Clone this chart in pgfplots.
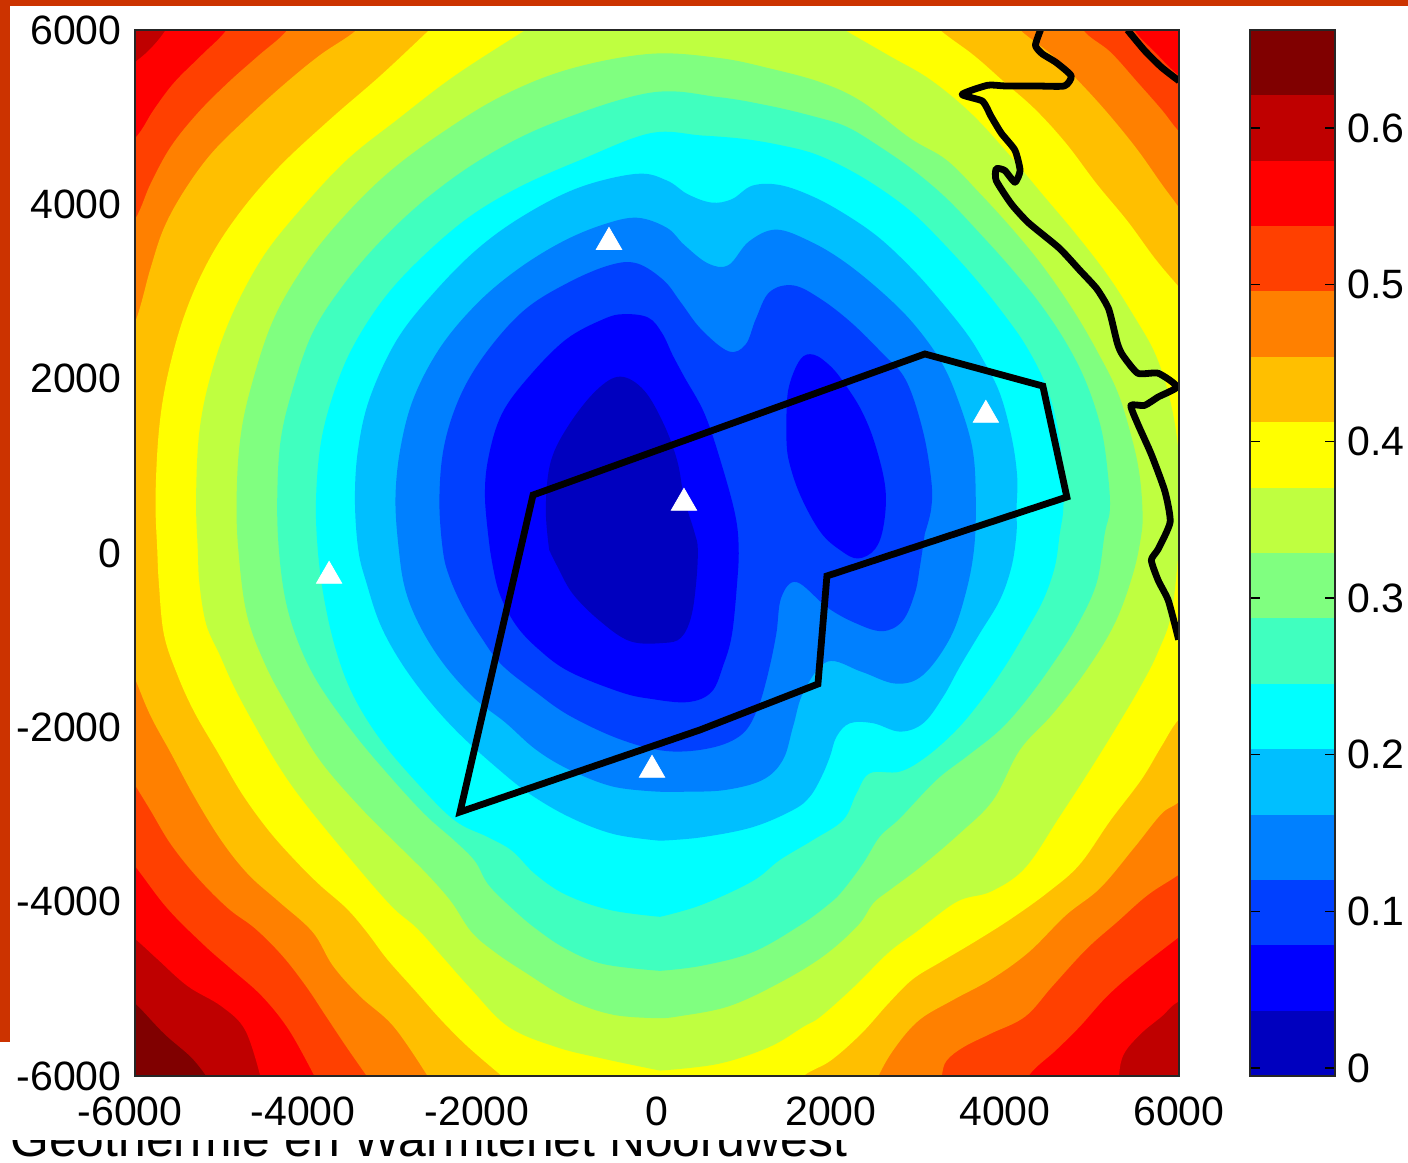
\documentclass[border=0pt]{standalone}
\usepackage{fontspec}
\setmainfont{Liberation Sans}
\usepackage{pgfplots}
\pgfplotsset{compat=1.18}
\definecolor{c16}{rgb}{.5,0,0}
\definecolor{c15}{rgb}{.75,0,0}
\definecolor{c14}{rgb}{1,0,0}
\definecolor{c13}{rgb}{1,.25,0}
\definecolor{c12}{rgb}{1,.5,0}
\definecolor{c11}{rgb}{1,.75,0}
\definecolor{c10}{rgb}{1,1,0}
\definecolor{c9}{rgb}{.75,1,.25}
\definecolor{c8}{rgb}{.5,1,.5}
\definecolor{c7}{rgb}{.25,1,.75}
\definecolor{c6}{rgb}{0,1,1}
\definecolor{c5}{rgb}{0,.75,1}
\definecolor{c4}{rgb}{0,.5,1}
\definecolor{c3}{rgb}{0,.25,1}
\definecolor{c2}{rgb}{0,0,1}
\definecolor{c1}{rgb}{0,0,.75}
\definecolor{frame}{rgb}{.8,.2,0}
\pgfplotsset{band/.style={draw=none,fill=#1,mark=none,smooth,tension=0.6,forget plot},
 bar/.style={draw=none,fill=#1,mark=none,sharp plot,forget plot}}
\begin{document}
\begin{tikzpicture}
\path[use as bounding box] (0,0) rectangle (704pt,581pt);
\fill[frame] (0,578pt) rectangle (704pt,581pt);
\fill[frame] (0,60pt) rectangle (5pt,581pt);
\begin{scope}
\clip (0,0) rectangle (704pt,11pt);
\node[anchor=base west,inner sep=0pt,font=\fontsize{24.9}{28}\selectfont] at (5pt,3pt) {Geothermie en Warmtenet Noordwest};
\end{scope}
\begin{axis}[at={(67.5pt,43pt)},anchor=south west,width=522pt,height=523pt,scale only axis,
 xmin=-6000,xmax=6000,ymin=-6000,ymax=6000,axis on top,major tick length=0pt,
 xtick={-6000,-4000,-2000,0,2000,4000,6000},ytick={-6000,-4000,-2000,0,2000,4000,6000},
 xticklabels={-6000\kern5pt,-4000\kern6pt,-2000\kern6pt,0,2000,4000,6000},yticklabels={-6000,-4000,-2000,0,2000,4000,6000},
 tick label style={font=\fontsize{20.5}{24}\selectfont,inner sep=0pt},
 xticklabel style={yshift=-10pt},yticklabel style={xshift=-6.5pt},
 axis line style={line width=0.7pt,black!85}]
\addplot[bar=c16] coordinates {(-6500,-6500)(6500,-6500)(6500,6500)(-6500,6500)} --cycle;
% C1
\addplot[band=c15] coordinates {(-5181,-6000)(-5356,-5783)(-5667,-5512)(-6000,-5163)(-6400,-4800)(-6400,6400)(6400,6400)(6400,-6400)(-5000,-6400)(-5181,-6000)};
% C2
\addplot[band=c14] coordinates {(-4560,-6000)(-4734,-5473)(-5006,-5201)(-5395,-4969)(-5744,-4658)(-6000,-4426)(-6400,-4100)(-6400,5300)(-6000,5629)(-5822,5785)(-5647,6000)(-5400,6400)(6400,6400)(6400,-5000)(6000,-5143)(5800,-5318)(5565,-5512)(5369,-5744)(5310,-6000)(5300,-6400)(-4500,-6400)(-4560,-6000)};
% C3
\addplot[band=c13] coordinates {(-3938,-6000)(-4230,-5473)(-4540,-5085)(-4890,-4775)(-5201,-4503)(-5628,-4077)(-6000,-3592)(-6400,-3100)(-6400,4400)(-6000,4757)(-5783,5087)(-5550,5397)(-5239,5707)(-4948,6000)(-4700,6400)(5300,6400)(5486,6000)(5722,5746)(6000,5474)(6400,5200)(6400,-4100)(6000,-4406)(5526,-4775)(5173,-5085)(4859,-5434)(4585,-5705)(4271,-6000)(4100,-6400)(-3800,-6400)(-3938,-6000)};
% C4
\addplot[band=c12] coordinates {(-3336,-6000)(-3569,-5667)(-3802,-5318)(-4035,-4969)(-4307,-4620)(-4618,-4309)(-4929,-4077)(-5278,-3728)(-5589,-3340)(-5822,-2952)(-6000,-2661)(-6400,-2000)(-6400,3200)(-6000,3826)(-5822,4233)(-5589,4660)(-5278,5048)(-4929,5397)(-4579,5707)(-4249,6000)(-4000,6400)(4700,6400)(4898,6000)(5212,5746)(5526,5397)(5800,5086)(6000,4834)(6400,4400)(6400,-3400)(6000,-3689)(5643,-3922)(5290,-4232)(4938,-4542)(4546,-4969)(4232,-5318)(3840,-5512)(3526,-5667)(3330,-5822)(3272,-6000)(3200,-6400)(-3200,-6400)(-3336,-6000)};
% C5
\addplot[band=c11] coordinates {(-2637,-6000)(-3026,-5434)(-3414,-5085)(-3725,-4736)(-3958,-4348)(-4346,-4000)(-4696,-3689)(-5006,-3301)(-5317,-2797)(-5589,-2293)(-5822,-1866)(-6000,-1440)(-6300,-700)(-6300,2000)(-6000,2643)(-5822,3264)(-5667,3729)(-5434,4156)(-5123,4582)(-4734,4970)(-4307,5358)(-3880,5707)(-3453,6000)(-3200,6300)(3900,6300)(4173,6000)(4546,5707)(4898,5358)(5212,5009)(5526,4621)(5800,4233)(6000,3962)(6400,3400)(6400,-2500)(6000,-2855)(5800,-2991)(5486,-3379)(5094,-3844)(4702,-4154)(4271,-4581)(3840,-4891)(3409,-5124)(3017,-5356)(2742,-5667)(2546,-6000)(2400,-6400)(-2500,-6400)(-2637,-6000)};
% C6
\addplot[band=c10] coordinates {(-1783,-6000)(-2171,-5667)(-2482,-5356)(-2792,-5007)(-3103,-4658)(-3336,-4348)(-3569,-4077)(-3880,-3805)(-4152,-3534)(-4463,-3185)(-4773,-2758)(-5045,-2293)(-5317,-1827)(-5511,-1401)(-5667,-936)(-5725,-354)(-5744,34)(-5764,627)(-5725,1402)(-5628,2023)(-5434,2721)(-5162,3341)(-4812,3884)(-4346,4427)(-3763,4970)(-3181,5474)(-2618,6000)(-2300,6300)(2950,6300)(3252,6000)(3644,5707)(3997,5397)(4350,5086)(4702,4699)(5055,4233)(5408,3807)(5722,3380)(6000,3051)(6400,2600)(6400,-1500)(6000,-1905)(5800,-2215)(5565,-2603)(5212,-3068)(4859,-3572)(4506,-3883)(4075,-4193)(3644,-4465)(3252,-4697)(2938,-4891)(2664,-5163)(2350,-5512)(1998,-5822)(1684,-6000)(1400,-6300)(-1500,-6300)(-1783,-6000)};
% C7
\addplot[band=c9] coordinates {(35,-5938)(-617,-5802)(-1161,-5667)(-1709,-5434)(-2132,-5007)(-2443,-4658)(-2754,-4309)(-3064,-4038)(-3569,-3456)(-4074,-2836)(-4346,-2448)(-4599,-2021)(-4851,-1556)(-5026,-1168)(-5181,-819)(-5259,-354)(-5278,34)(-5298,627)(-5259,1402)(-5123,2062)(-4890,2721)(-4540,3380)(-4113,3923)(-3569,4505)(-2987,4970)(-2326,5474)(-1511,6000)(-1200,6200)(1800,6200)(2154,6000)(2664,5707)(3134,5435)(3605,5048)(4036,4582)(4428,4117)(4820,3652)(5180,3186)(5480,2721)(5722,2294)(5878,1829)(5976,1325)(6010,820)(6010,240)(5918,-664)(5761,-1129)(5565,-1517)(5290,-1983)(4977,-2487)(4624,-3030)(4232,-3611)(3840,-3883)(3448,-4000)(2978,-4348)(2664,-4581)(2272,-4969)(1880,-5318)(1684,-5434)(1292,-5667)(704,-5861)(35,-5938)};
% C8
\addplot[band=c8] coordinates {(35,-5337)(-501,-5298)(-1006,-5124)(-1511,-4814)(-1860,-4581)(-2132,-4348)(-2365,-4000)(-2637,-3689)(-2948,-3379)(-3414,-2913)(-3880,-2370)(-4230,-1789)(-4501,-1285)(-4715,-703)(-4812,34)(-4832,627)(-4793,1286)(-4676,1868)(-4424,2643)(-4074,3264)(-3647,3807)(-3103,4350)(-2482,4815)(-1783,5242)(-1006,5552)(-80,5726)(704,5680)(1292,5560)(1880,5400)(2350,5180)(2907,4760)(3328,4508)(3711,4125)(4094,3705)(4439,3284)(4783,2787)(5052,2328)(5300,1831)(5473,1258)(5549,876)(5580,493)(5569,226)(5473,-233)(5262,-807)(4937,-1342)(4554,-1839)(4171,-2259)(3864,-2833)(3481,-3215)(3014,-3613)(2677,-3865)(2485,-4018)(2311,-4271)(1919,-4620)(1410,-4930)(822,-5201)(234,-5318)(35,-5337)};
% C9
\addplot[band=c7] coordinates {(35,-4794)(-617,-4716)(-1045,-4542)(-1394,-4309)(-1666,-4077)(-1938,-3805)(-2093,-3534)(-2326,-3301)(-2676,-2991)(-3103,-2525)(-3492,-2060)(-3880,-1517)(-4113,-1052)(-4268,-548)(-4346,34)(-4365,627)(-4327,1286)(-4191,1868)(-3958,2527)(-3608,3070)(-3181,3574)(-2637,4078)(-1977,4544)(-1200,4931)(-80,5280)(704,5230)(1292,5130)(1796,5010)(2179,4890)(2562,4660)(2945,4393)(3328,4068)(3711,3666)(4056,3284)(4400,2864)(4707,2405)(4937,1946)(5109,1411)(5186,876)(5205,493)(5147,226)(5052,-348)(4822,-845)(4554,-1265)(4247,-1686)(3941,-2030)(3558,-2336)(3213,-2603)(2792,-3043)(2562,-3253)(2370,-3559)(2141,-3865)(1988,-4018)(1645,-4271)(1096,-4581)(508,-4736)(35,-4794)};
% C10
\addplot[band=c6] coordinates {(35,-4174)(-540,-4096)(-1045,-3922)(-1394,-3689)(-1666,-3417)(-1938,-3262)(-2326,-3068)(-2754,-2642)(-3181,-2138)(-3492,-1634)(-3686,-1129)(-3822,-548)(-3899,34)(-3919,627)(-3860,1286)(-3705,1868)(-3492,2372)(-3142,2915)(-2715,3380)(-2171,3846)(-1588,4195)(-889,4505)(-80,4815)(508,4790)(1000,4750)(1413,4680)(1796,4584)(2179,4412)(2562,4183)(2945,3896)(3328,3514)(3673,3131)(3979,2749)(4247,2367)(4477,1908)(4611,1411)(4669,876)(4669,493)(4630,226)(4573,-157)(4439,-539)(4228,-921)(3998,-1304)(3730,-1686)(3443,-2030)(3098,-2336)(2792,-2508)(2447,-2527)(2294,-2756)(2141,-3062)(1796,-3291)(1413,-3521)(1096,-3766)(508,-4038)(35,-4174)};
% C11
\addplot[band=c5] coordinates {(35,-3301)(-501,-3224)(-1006,-3030)(-1472,-2758)(-1860,-2448)(-2287,-2060)(-2637,-1672)(-2948,-1246)(-3181,-819)(-3336,-354)(-3433,34)(-3472,627)(-3433,1208)(-3297,1790)(-2987,2450)(-2559,2992)(-2054,3497)(-1511,3884)(-889,4195)(-229,4350)(116,4272)(351,4117)(626,4020)(861,4059)(1096,4214)(1413,4221)(1796,4087)(2179,3877)(2562,3609)(2945,3246)(3251,2902)(3558,2520)(3749,2214)(3941,1831)(4075,1334)(4140,876)(4132,493)(4132,226)(4075,-157)(3941,-539)(3711,-921)(3481,-1304)(3290,-1648)(3060,-1953)(2792,-2049)(2485,-1953)(2217,-1953)(2064,-2106)(1988,-2336)(1892,-2565)(1758,-2794)(1566,-2947)(1096,-3146)(508,-3262)(35,-3301)};
% C12
\addplot[band=c4] coordinates {(35,-2739)(-501,-2681)(-1006,-2487)(-1394,-2254)(-1744,-1944)(-2093,-1672)(-2443,-1285)(-2715,-858)(-2890,-431)(-2967,34)(-3006,627)(-2948,1208)(-2792,1790)(-2482,2372)(-2054,2876)(-1588,3264)(-1083,3574)(-617,3768)(-229,3846)(116,3729)(312,3535)(586,3322)(822,3303)(1057,3574)(1370,3710)(1762,3574)(2154,3341)(2586,2992)(2938,2643)(3252,2217)(3448,1790)(3624,1208)(3664,627)(3644,45)(3546,-470)(3370,-974)(3056,-1401)(2742,-1498)(2350,-1362)(1958,-1246)(1684,-1595)(1566,-1983)(1449,-2370)(1214,-2603)(782,-2719)(312,-2739)(35,-2739)};
% C13
\addplot[band=c3] coordinates {(3079,226)(3022,-157)(2964,-462)(2821,-781)(2586,-897)(2272,-800)(1958,-625)(1606,-334)(1429,-509)(1370,-935)(1272,-1401)(1155,-1789)(978,-2079)(626,-2235)(116,-2273)(-423,-2138)(-1006,-1866)(-1394,-1595)(-1783,-1285)(-2016,-974)(-2229,-625)(-2385,-276)(-2462,34)(-2501,627)(-2443,1247)(-2249,1829)(-1938,2333)(-1511,2798)(-1006,3109)(-540,3303)(-229,3322)(77,3128)(273,2876)(508,2566)(822,2314)(1018,2391)(1135,2682)(1292,2992)(1566,3070)(1880,2915)(2233,2643)(2586,2295)(2860,1984)(3056,1402)(3154,821)(3150,500)(3079,226)};
% C14 left lobe
\addplot[band=c2] coordinates {(-1919,34)(-1977,627)(-1938,1092)(-1783,1596)(-1472,2023)(-1045,2450)(-617,2682)(-384,2740)(-100,2700)(60,2520)(180,2270)(312,2023)(547,1596)(743,1015)(900,433)(939,45)(920,-354)(861,-936)(763,-1285)(626,-1595)(351,-1711)(-80,-1672)(-423,-1595)(-1006,-1362)(-1355,-1110)(-1627,-819)(-1822,-431)(-1919,34)};
% C14 right lobe
\addplot[band=c2] coordinates {(1488,1402)(1508,1868)(1645,2217)(1802,2275)(1998,2139)(2154,1945)(2350,1635)(2507,1247)(2625,743)(2605,317)(2507,45)(2311,-63)(2115,26)(1880,239)(1645,666)(1508,1092)(1488,1402)};
% C15
\addplot[band=c1] coordinates {(-1239,34)(-1278,510)(-1220,1053)(-1006,1480)(-695,1868)(-423,2023)(-151,1868)(77,1480)(234,1053)(312,627)(430,239)(469,45)(449,-354)(390,-742)(273,-974)(77,-1032)(-307,-1013)(-656,-780)(-967,-470)(-1142,-160)(-1239,34)};
% coast
\addplot[black,line width=3.4pt,mark=none,smooth,tension=0.35,line join=round,forget plot] coordinates {(4408,6000)(4350,5823)(4428,5726)(4585,5629)(4761,5474)(4683,5358)(4350,5358)(3997,5358)(3801,5366)(3507,5261)(3742,5183)(3840,5009)(3958,4815)(4114,4621)(4173,4388)(4114,4253)(3997,4388)(3899,4408)(3899,4272)(4075,4001)(4271,3787)(4624,3497)(4859,3244)(5055,3031)(5192,2798)(5290,2411)(5349,2275)(5526,2062)(5761,2062)(5976,1907)(5761,1790)(5604,1693)(5447,1693)(5526,1480)(5682,1131)(5839,704)(5898,355)(5761,45)(5682,-82)(5761,-315)(5878,-548)(5996,-994)};
\addplot[black,line width=3.4pt,mark=none,smooth,tension=0.35,forget plot] coordinates {(5408,6000)(5604,5765)(5800,5571)(6000,5416)};
% block
\addplot[black,line width=3.4pt,mark=none,line join=miter,forget plot] coordinates {(-1425,665)(3079,2283)(4435,1915)(4711,642)(1953,-264)(1850,-1503)(494,-2030)(-2264,-2971)} --cycle;
% wells
\addplot[only marks,mark=triangle*,mark size=7.3pt,draw=white,fill=white,mark options={draw=white,fill=white},forget plot] coordinates {(-552,3567)(310,574)(3780,1583)(-3769,-264)(-57,-2489)};
\end{axis}
\begin{axis}[at={(625pt,43pt)},anchor=south west,width=42.5pt,height=523pt,scale only axis,
 xmin=0,xmax=1,ymin=-0.0051,ymax=0.6626,axis on top,xtick=\empty,
 ytick={0,0.1,0.2,0.3,0.4,0.5,0.6},yticklabels={0,0.1,0.2,0.3,0.4,0.5,0.6},
 yticklabel pos=right,tick align=inside,major tick length=5pt,
 tick style={black,line width=0.6pt},
 tick label style={font=\fontsize{20.5}{24}\selectfont,inner sep=0pt},
 yticklabel style={xshift=6pt},
 axis line style={line width=0.7pt,black!85}]
\addplot[bar=c1] coordinates {(0,-0.0051)(1,-0.0051)(1,0.0366)(0,0.0366)} --cycle;
\addplot[bar=c2] coordinates {(0,0.0366)(1,0.0366)(1,0.0784)(0,0.0784)} --cycle;
\addplot[bar=c3] coordinates {(0,0.0784)(1,0.0784)(1,0.1201)(0,0.1201)} --cycle;
\addplot[bar=c4] coordinates {(0,0.1201)(1,0.1201)(1,0.1618)(0,0.1618)} --cycle;
\addplot[bar=c5] coordinates {(0,0.1618)(1,0.1618)(1,0.2036)(0,0.2036)} --cycle;
\addplot[bar=c6] coordinates {(0,0.2036)(1,0.2036)(1,0.2453)(0,0.2453)} --cycle;
\addplot[bar=c7] coordinates {(0,0.2453)(1,0.2453)(1,0.2870)(0,0.2870)} --cycle;
\addplot[bar=c8] coordinates {(0,0.2870)(1,0.2870)(1,0.3287)(0,0.3287)} --cycle;
\addplot[bar=c9] coordinates {(0,0.3287)(1,0.3287)(1,0.3705)(0,0.3705)} --cycle;
\addplot[bar=c10] coordinates {(0,0.3705)(1,0.3705)(1,0.4122)(0,0.4122)} --cycle;
\addplot[bar=c11] coordinates {(0,0.4122)(1,0.4122)(1,0.4539)(0,0.4539)} --cycle;
\addplot[bar=c12] coordinates {(0,0.4539)(1,0.4539)(1,0.4957)(0,0.4957)} --cycle;
\addplot[bar=c13] coordinates {(0,0.4957)(1,0.4957)(1,0.5374)(0,0.5374)} --cycle;
\addplot[bar=c14] coordinates {(0,0.5374)(1,0.5374)(1,0.5791)(0,0.5791)} --cycle;
\addplot[bar=c15] coordinates {(0,0.5791)(1,0.5791)(1,0.6209)(0,0.6209)} --cycle;
\addplot[bar=c16] coordinates {(0,0.6209)(1,0.6209)(1,0.6626)(0,0.6626)} --cycle;
\end{axis}
\end{tikzpicture}
\end{document}
